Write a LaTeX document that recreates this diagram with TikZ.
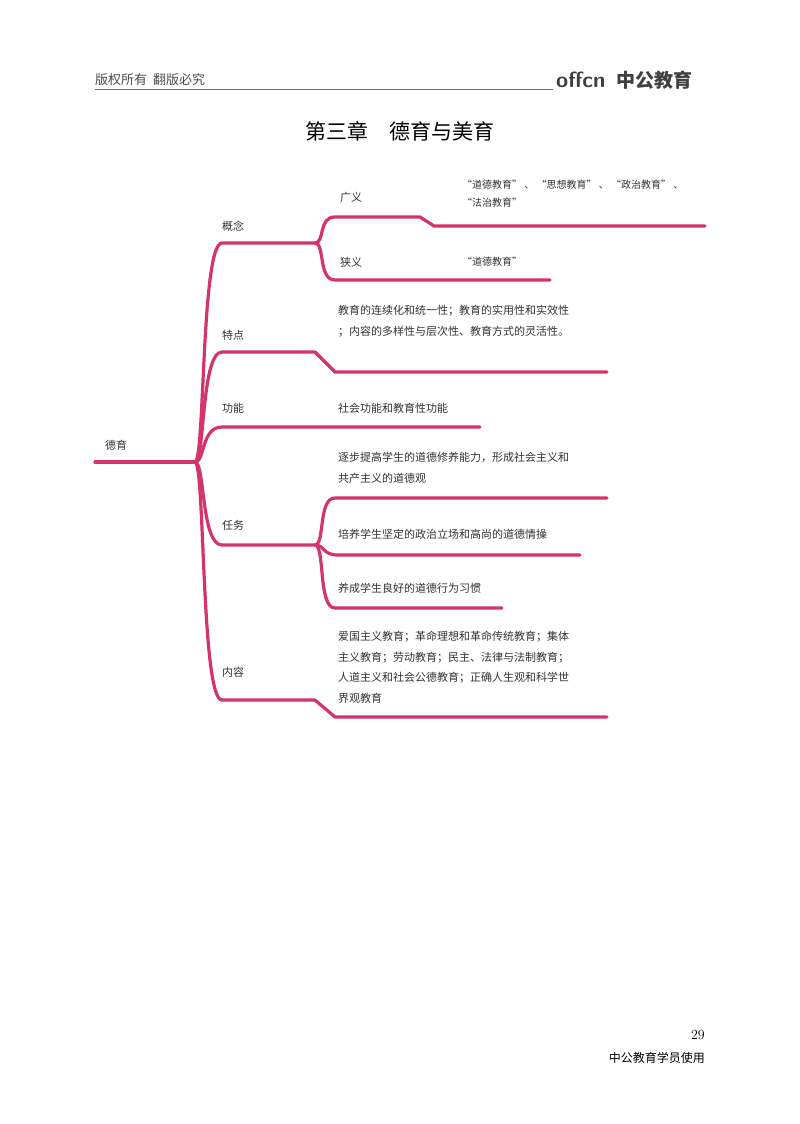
\documentclass[tikz,border=0pt]{standalone}
\usepackage{fontspec}
\newfontfamily\cjk{Noto Sans CJK SC}
\begin{document}
\begin{tikzpicture}[x=1pt,y=-1pt,
  br/.style={draw=mag,line width=3.2pt,line cap=round},
  lab/.style={anchor=west,inner sep=0,font=\cjk\fontsize{11}{13}\selectfont,text=black!80},
  txt/.style={anchor=north west,inner sep=0,font=\cjk\fontsize{11}{20.5}\selectfont,text=black!80,align=left}]
\definecolor{mag}{HTML}{D4336B}
\useasboundingbox (0,0) rectangle (800,1124);
\fill[white] (0,0) rectangle (800,1124);
% header
\node[lab,font=\cjk\fontsize{13}{15}\selectfont,text=black!70] (hl) at (95,80) {版权所有\ \ 翻版必究};
\coordinate (h1) at (95,89); \coordinate (h2) at (553,89);
\draw[black!60,line width=0.8pt] (h1) -- (h2);
\node[anchor=west,inner sep=0,text=black!75,font=\sffamily\bfseries\fontsize{22}{24}\selectfont] (logo) at (556,80) {offcn};
\node[anchor=west,inner sep=0,text=black!75,font=\cjk\bfseries\fontsize{19}{21}\selectfont] (logo2) at (616,80) {中公教育};
\node[inner sep=0,font=\cjk\fontsize{21}{24}\selectfont] (title) at (400,131) {第三章\quad 德育与美育};
% root
\coordinate (r0) at (95,462); \coordinate (r) at (195,462);
\node[lab] (dy) at (105,445) {德育};
\draw[br] (r0) -- (r);
% branch points
\coordinate (gn) at (315,243); \coordinate (td) at (315,352);
\coordinate (gn2) at (480,427); \coordinate (rw) at (315,545); \coordinate (nr) at (315,700);
\foreach \y/\e in {243/gn,352/td,427/gn2,545/rw,700/nr}{
  \draw[br] (r) .. controls (205,462) and (201,\y) .. (222,\y) -- (\e);}
\node[lab] (l1) at (222,226) {概念};
\node[lab] (l2) at (222,335) {特点};
\node[lab] (l3) at (222,408) {功能};
\node[lab] (l4) at (222,525) {任务};
\node[lab] (l5) at (222,672) {内容};
% 概念 sub
\coordinate (e1) at (705,226); \coordinate (e2) at (550,280);
\draw[br] (gn) .. controls (325,243) and (318,217) .. (335,217) -- (420,217) -- (434,226) -- (e1);
\draw[br] (gn) .. controls (325,243) and (318,280) .. (335,280) -- (e2);
\node[lab] (g1) at (340,197) {广义};
\node[lab] (g2) at (340,262) {狭义};
\node[txt,font=\cjk\fontsize{10}{18}\selectfont] (t1) at (462,180) {“道德教育”\ 、\ “思想教育”\ 、\ “政治教育”\ 、\\“法治教育”};
\node[lab,font=\cjk\fontsize{10}{12}\selectfont] (t2) at (462,262) {“道德教育”};
% 特点 sub
\coordinate (e3) at (607,372);
\draw[br] (td) -- (335,372) -- (e3);
\node[txt] (t3) at (338,305) {教育的连续化和统一性；教育的实用性和实效性\\；内容的多样性与层次性、教育方式的灵活性。};
% 功能
\node[lab] (t4) at (338,408) {社会功能和教育性功能};
% 任务 sub
\coordinate (e5) at (607,498); \coordinate (e6) at (580,555); \coordinate (e7) at (502,608);
\draw[br] (rw) .. controls (325,545) and (318,498) .. (335,498) -- (e5);
\draw[br] (rw) .. controls (325,545) and (322,555) .. (338,555) -- (e6);
\draw[br] (rw) .. controls (325,545) and (318,608) .. (335,608) -- (e7);
\node[txt] (t5) at (338,452) {逐步提高学生的道德修养能力，形成社会主义和\\共产主义的道德观};
\node[lab] (t6) at (338,534) {培养学生坚定的政治立场和高尚的道德情操};
\node[lab] (t7) at (338,588) {养成学生良好的道德行为习惯};
% 内容 sub
\coordinate (e8) at (607,717);
\draw[br] (nr) -- (335,717) -- (e8);
\node[txt] (t8) at (338,631) {爱国主义教育；革命理想和革命传统教育；集体\\主义教育；劳动教育；民主、法律与法制教育；\\人道主义和社会公德教育；正确人生观和科学世\\界观教育};
% footer
\node[anchor=east,inner sep=0,font=\fontsize{14}{16}\selectfont] (pg) at (705,1035) {29};
\node[anchor=east,inner sep=0,font=\cjk\fontsize{12}{14}\selectfont] (ft) at (705,1058) {中公教育学员使用};
\end{tikzpicture}
\end{document}
